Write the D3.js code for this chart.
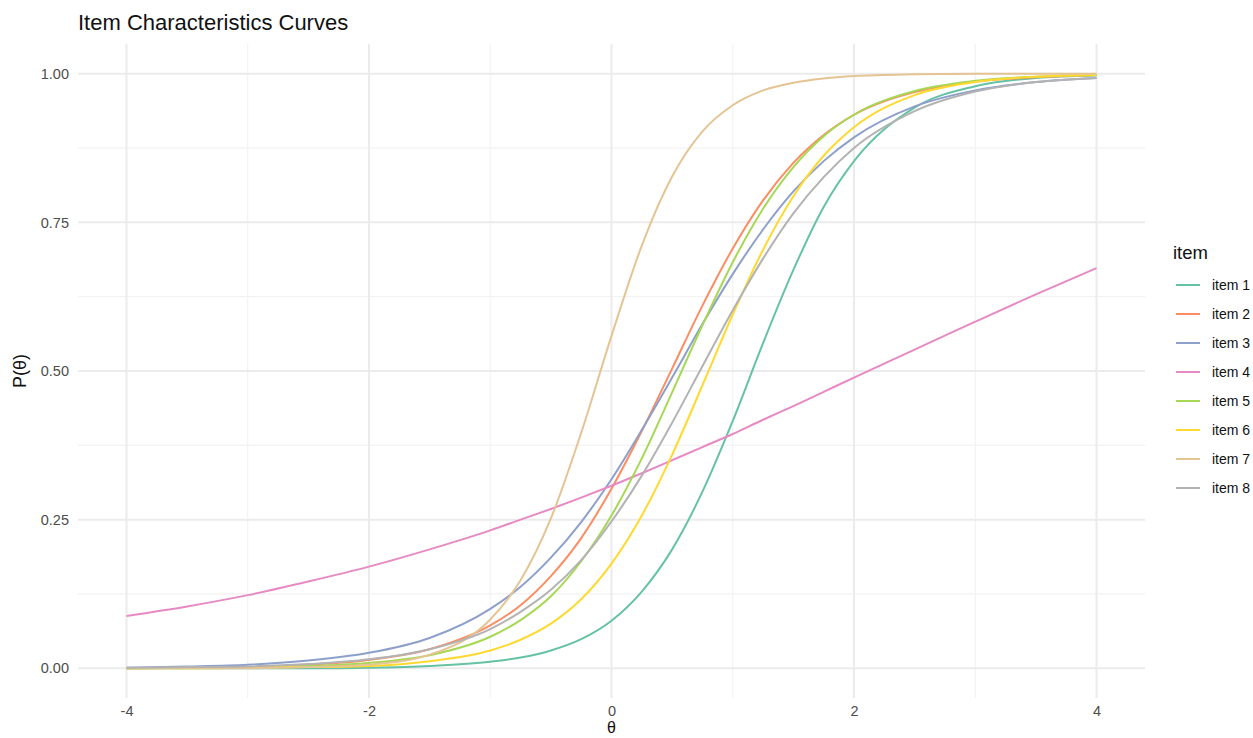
<!DOCTYPE html>
<html>
<head>
<meta charset="utf-8">
<script src="https://cdn.jsdelivr.net/npm/d3@7"></script>
<style>
  body { margin: 0; background: #fff; }
  svg { display: block; font-family: "Liberation Sans", Arial, sans-serif; }
</style>
</head>
<body>
<div id="main"></div>
<script>
// theta grid the curves were read at
const theta = [-4, -3.5, -3, -2.5, -2, -1.5, -1, -0.75, -0.5, -0.25, 0, 0.25, 0.5, 0.75, 1, 1.25, 1.5, 1.75, 2, 2.5, 3, 3.5, 4];

const item1 = [0.000, 0.000, 0.000, 0.000, 0.001, 0.004, 0.011, 0.018, 0.030, 0.049, 0.080, 0.129, 0.200, 0.297, 0.416, 0.547, 0.670, 0.776, 0.853, 0.943, 0.979, 0.993, 0.997];
const item2 = [0.000, 0.001, 0.002, 0.006, 0.014, 0.032, 0.072, 0.106, 0.155, 0.219, 0.302, 0.399, 0.504, 0.610, 0.706, 0.787, 0.850, 0.897, 0.931, 0.969, 0.987, 0.994, 0.998];
const item3 = [0.001, 0.003, 0.006, 0.013, 0.026, 0.051, 0.100, 0.137, 0.186, 0.246, 0.318, 0.401, 0.489, 0.579, 0.663, 0.738, 0.802, 0.853, 0.893, 0.945, 0.972, 0.986, 0.993];
const item4 = [0.088, 0.104, 0.123, 0.146, 0.171, 0.200, 0.232, 0.250, 0.268, 0.287, 0.307, 0.328, 0.350, 0.372, 0.394, 0.418, 0.441, 0.465, 0.489, 0.536, 0.583, 0.629, 0.673];
const item5 = [0.000, 0.001, 0.001, 0.004, 0.009, 0.022, 0.053, 0.081, 0.121, 0.180, 0.257, 0.353, 0.464, 0.577, 0.683, 0.773, 0.843, 0.895, 0.931, 0.971, 0.988, 0.995, 0.998];
const item6 = [0.000, 0.000, 0.001, 0.002, 0.004, 0.012, 0.030, 0.048, 0.075, 0.116, 0.176, 0.257, 0.359, 0.476, 0.595, 0.704, 0.794, 0.862, 0.910, 0.964, 0.986, 0.995, 0.998];
const item7 = [0.000, 0.000, 0.000, 0.002, 0.006, 0.023, 0.082, 0.148, 0.252, 0.396, 0.559, 0.711, 0.827, 0.903, 0.947, 0.972, 0.985, 0.992, 0.996, 0.999, 1.000, 1.000, 1.000];
const item8 = [0.001, 0.002, 0.003, 0.007, 0.015, 0.032, 0.066, 0.095, 0.132, 0.182, 0.247, 0.324, 0.413, 0.508, 0.602, 0.689, 0.765, 0.826, 0.875, 0.937, 0.970, 0.986, 0.993];

const itemNames = ['item 1', 'item 2', 'item 3', 'item 4', 'item 5', 'item 6', 'item 7', 'item 8'];
const itemColors = ['#66C2A5', '#FC8D62', '#8DA0CB', '#E78AC3', '#A6D854', '#FFD92F', '#E5C494', '#B3B3B3'];
const xTicks = [-4, -2, 0, 2, 4];
const xTickLabels = ['-4', '-2', '0', '2', '4'];
const yTicks = [0, 0.25, 0.5, 0.75, 1];
const yTickLabels = ['0.00', '0.25', '0.50', '0.75', '1.00'];

const series = [item1, item2, item3, item4, item5, item6, item7, item8].map((vals, i) => {
    return { name: itemNames[i], values: vals.map((v, j) => ({ t: theta[j], p: v })) };
});

const width = 1253;
const height = 738;
const panel = { left: 78, right: 1145, top: 44, bottom: 698 };

const svg = d3.select('#main').append('svg')
    .attr('width', width)
    .attr('height', height);

const x = d3.scaleLinear().domain([-4.4, 4.4]).range([panel.left, panel.right]);
const y = d3.scaleLinear().domain([-0.05, 1.05]).range([panel.bottom, panel.top]);

const grid = svg.append('g');
// minor grid
grid.selectAll('line.xminor')
    .data([-3, -1, 1, 3])
    .enter().append('line')
    .attr('x1', d => x(d)).attr('x2', d => x(d))
    .attr('y1', panel.top).attr('y2', panel.bottom)
    .attr('stroke', '#f2f2f2').attr('stroke-width', 1.2);
grid.selectAll('line.yminor')
    .data([0.125, 0.375, 0.625, 0.875])
    .enter().append('line')
    .attr('x1', panel.left).attr('x2', panel.right)
    .attr('y1', d => y(d)).attr('y2', d => y(d))
    .attr('stroke', '#f2f2f2').attr('stroke-width', 1.2);
// major grid
grid.selectAll('line.xmajor')
    .data(xTicks)
    .enter().append('line')
    .attr('x1', d => x(d)).attr('x2', d => x(d))
    .attr('y1', panel.top).attr('y2', panel.bottom)
    .attr('stroke', '#ebebeb').attr('stroke-width', 2);
grid.selectAll('line.ymajor')
    .data(yTicks)
    .enter().append('line')
    .attr('x1', panel.left).attr('x2', panel.right)
    .attr('y1', d => y(d)).attr('y2', d => y(d))
    .attr('stroke', '#ebebeb').attr('stroke-width', 2);

// axes (text only, like theme_minimal)
const xAxis = svg.append('g')
    .attr('transform', `translate(0, ${panel.bottom})`)
    .call(d3.axisBottom(x).tickValues(xTicks).tickFormat((d, i) => xTickLabels[i]).tickSize(0).tickPadding(8));
const yAxis = svg.append('g')
    .attr('transform', `translate(${panel.left}, 0)`)
    .call(d3.axisLeft(y).tickValues(yTicks).tickFormat((d, i) => yTickLabels[i]).tickSize(0).tickPadding(9));
[xAxis, yAxis].forEach(a => {
    a.select('.domain').remove();
    a.selectAll('text')
        .attr('fill', '#4d4d4d')
        .style('font-size', '14.5px')
        .style('font-family', '"Liberation Sans", Arial, sans-serif');
});

const lineGen = d3.line()
    .x(d => x(d.t))
    .y(d => y(d.p))
    .curve(d3.curveMonotoneX);

svg.append('g').selectAll('path')
    .data(series)
    .enter().append('path')
    .attr('fill', 'none')
    .attr('stroke', (d, i) => itemColors[i])
    .attr('stroke-width', 2)
    .attr('d', d => lineGen(d.values));

// title and axis titles
svg.append('text')
    .attr('x', 78).attr('y', 30)
    .attr('fill', '#111')
    .style('font-size', '22px')
    .text('Item Characteristics Curves');

svg.append('text')
    .attr('x', x(0)).attr('y', 733)
    .attr('text-anchor', 'middle')
    .attr('fill', '#111')
    .style('font-size', '16px')
    .text('θ');

svg.append('text')
    .attr('transform', `translate(26, ${y(0.5)}) rotate(-90)`)
    .attr('text-anchor', 'middle')
    .attr('fill', '#111')
    .style('font-size', '18px')
    .text('P(θ)');

// legend
const legend = svg.append('g').attr('transform', 'translate(1173, 0)');
legend.append('text')
    .attr('x', 0).attr('y', 259)
    .attr('fill', '#111')
    .style('font-size', '18.5px')
    .text('item');
const rows = legend.selectAll('g.row')
    .data(itemNames)
    .enter().append('g')
    .attr('transform', (d, i) => `translate(0, ${285 + i * 29})`);
rows.append('line')
    .attr('x1', 3).attr('x2', 27)
    .attr('y1', 0).attr('y2', 0)
    .attr('stroke', (d, i) => itemColors[i])
    .attr('stroke-width', 2);
rows.append('text')
    .attr('x', 39).attr('y', 5)
    .attr('fill', '#111')
    .style('font-size', '14px')
    .text(d => d);
</script>
</body>
</html>
